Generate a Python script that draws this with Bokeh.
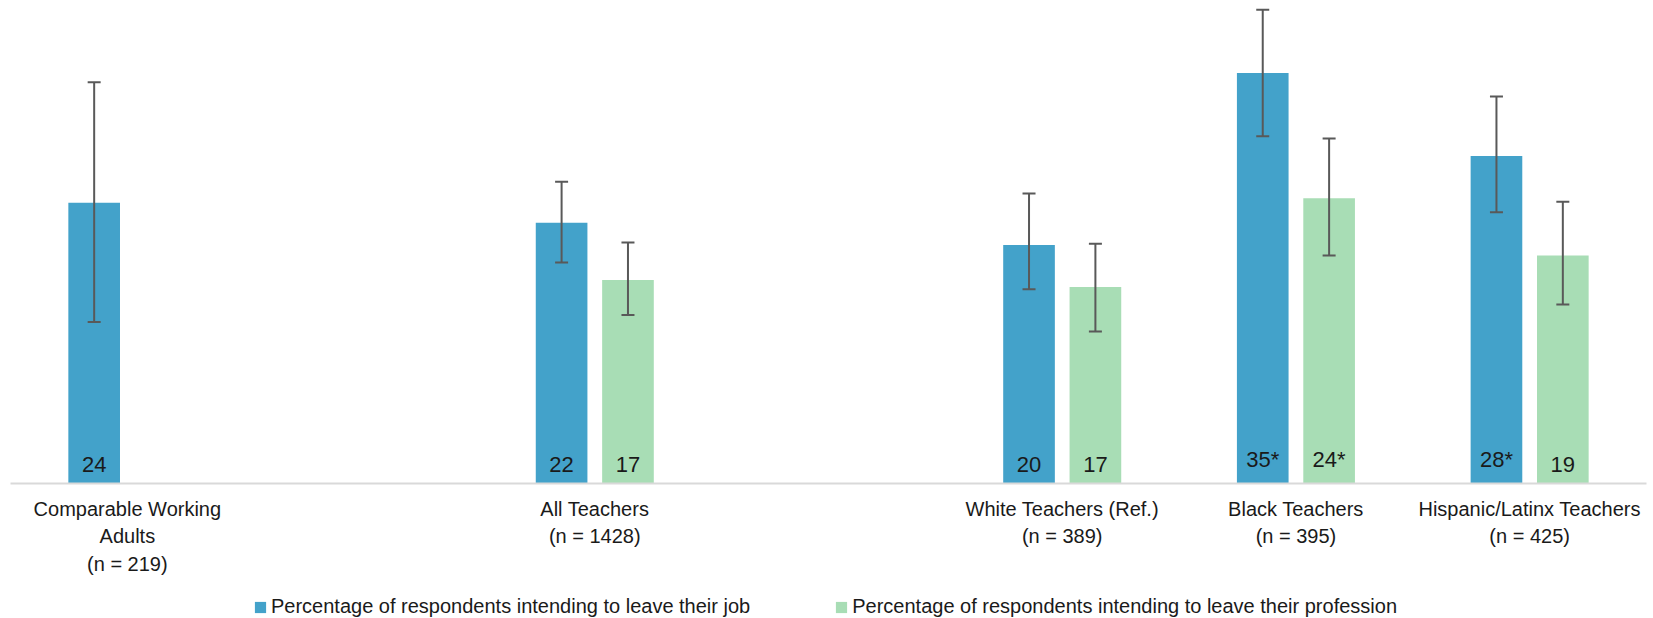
from bokeh.plotting import figure
from bokeh.layouts import column
from bokeh.models import ColumnDataSource, FactorRange, Range1d, Whisker, Legend, LegendItem, TeeHead
from bokeh.transform import dodge
from bokeh.core.properties import value
from bokeh.embed import file_html
from bokeh.resources import INLINE

# ---- data ----
group_names = ["Comparable Working\nAdults", "All Teachers", "White Teachers (Ref.)",
               "Black Teachers", "Hispanic/Latinx Teachers"]
sample_sizes = [219, 1428, 389, 395, 425]

job_pct = [24.0, 22.3, 20.4, 35.1, 28.0]
job_low = [13.8, 18.9, 16.6, 29.7, 23.2]
job_high = [34.3, 25.8, 24.8, 40.5, 33.1]
job_labels = ["24", "22", "20", "35*", "28*"]

prof_groups = ["All Teachers", "White Teachers (Ref.)", "Black Teachers", "Hispanic/Latinx Teachers"]
prof_pct = [17.4, 16.8, 24.4, 19.5]
prof_low = [14.4, 13.0, 19.5, 15.3]
prof_high = [20.6, 20.5, 29.5, 24.1]
prof_labels = ["17", "17", "24*", "19"]

series_names = ["Percentage of respondents intending to leave their job",
                "Percentage of respondents intending to leave their profession"]

BLUE = "#43A2CA"
GREEN = "#A8DDB5"
FONT = "Liberation Sans"
TEXT = "#1a1a1a"

# ---- factors (with blank spacer slots as in the original) ----
cat_labels = [f"{g}\n(n = {n})" for g, n in zip(group_names, sample_sizes)]
name_to_label = dict(zip(group_names, cat_labels))
factors = [cat_labels[0], " ", cat_labels[1], "  ", cat_labels[2], cat_labels[3], cat_labels[4]]

job_src = ColumnDataSource(dict(x=cat_labels, v=job_pct, lo=job_low, hi=job_high, lbl=job_labels))
prof_src = ColumnDataSource(dict(x=[name_to_label[g] for g in prof_groups], v=prof_pct,
                                 lo=prof_low, hi=prof_high, lbl=prof_labels))

p = figure(x_range=FactorRange(factors=factors), y_range=Range1d(0, 41.3),
           width=1653, height=578, output_backend="svg", toolbar_location=None,
           min_border_left=10, min_border_right=7, min_border_top=0, min_border_bottom=95)
p.outline_line_color = None
p.background_fill_color = "white"
p.xgrid.visible = False
p.ygrid.visible = False
p.yaxis.visible = False

off = 0.142
bw = 0.221
r_job = p.vbar(x=dodge("x", -off, range=p.x_range), top="v", width=bw, source=job_src,
               fill_color=BLUE, line_color=None)
r_prof = p.vbar(x=dodge("x", off, range=p.x_range), top="v", width=bw, source=prof_src,
                fill_color=GREEN, line_color=None)

for src, o in ((job_src, -off), (prof_src, off)):
    w = Whisker(base=dodge("x", o, range=p.x_range), upper="hi", lower="lo", source=src,
                line_color="#595959", line_width=2, level="overlay",
                upper_head=TeeHead(size=13, line_color="#595959", line_width=2),
                lower_head=TeeHead(size=13, line_color="#595959", line_width=2))
    p.add_layout(w)
    p.text(x=dodge("x", o, range=p.x_range), y=0, text="lbl", source=src,
           text_align="center", text_baseline="bottom", y_offset=-12,
           text_font=value(FONT), text_font_size="22px", text_color=TEXT)

ax = p.xaxis[0]
ax.axis_line_color = "#D9D9D9"
ax.axis_line_width = 2
ax.major_tick_line_color = None
ax.minor_tick_line_color = None
ax.major_tick_in = 0
ax.major_tick_out = 0
ax.major_label_text_font = FONT
ax.major_label_text_font_size = "20px"
ax.major_label_text_color = TEXT
ax.major_label_text_line_height = 1.25
ax.major_label_standoff = 14
ax.major_label_orientation = "horizontal"

# ---- legend strip (separate small figure under the chart) ----
pl = figure(width=1653, height=40, x_range=Range1d(0, 1), y_range=Range1d(0, 1),
            output_backend="svg", toolbar_location=None,
            min_border_left=0, min_border_right=0, min_border_top=0, min_border_bottom=0)
pl.outline_line_color = None
pl.axis.visible = False
pl.grid.visible = False
# swatch renderers kept outside the visible range; they only feed the legend
lg_job = pl.vbar(x=[-5], top=[-5], width=0.1, fill_color=BLUE, line_color=None)
lg_prof = pl.vbar(x=[-5], top=[-5], width=0.1, fill_color=GREEN, line_color=None)
legend = Legend(items=[LegendItem(label=series_names[0], renderers=[lg_job]),
                       LegendItem(label=series_names[1], renderers=[lg_prof])],
                orientation="horizontal", location=(243, 0), spacing=84,
                label_standoff=4, glyph_width=14, glyph_height=14,
                label_text_font=FONT, label_text_font_size="20px", label_text_color=TEXT,
                border_line_color=None, background_fill_alpha=0, padding=0, margin=0)
pl.add_layout(legend, "center")

layout = column(p, pl, spacing=0)
open("out.html", "w").write(file_html(layout, INLINE))
